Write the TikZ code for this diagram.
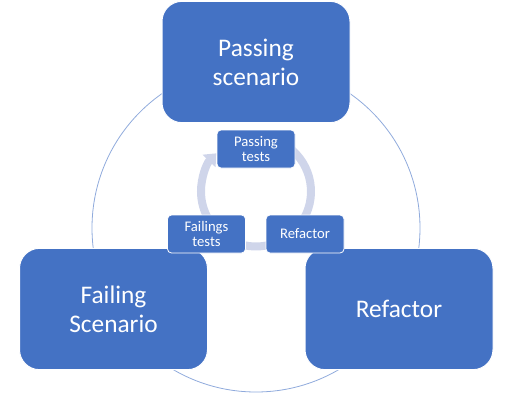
\documentclass[tikz,border=0pt]{standalone}
\usepackage{fontspec}
\setmainfont{Carlito}
\usetikzlibrary{arrows.meta,calc}
\definecolor{boxblue}{HTML}{4472C4}
\definecolor{ringcol}{HTML}{CFD5EA}
\definecolor{circcol}{HTML}{8FAADC}
\tikzset{
  bigbox/.style={draw=white, line width=0.75pt, fill=boxblue, rounded corners=15pt,
    minimum width=141pt, minimum height=91pt, text=white, align=center,
    font=\fontsize{19}{21.75}\selectfont, inner sep=0pt},
  smallbox/.style={draw=white, line width=0.6pt, fill=boxblue, rounded corners=3pt,
    minimum width=58.5pt, minimum height=28.5pt, text=white, align=center,
    font=\fontsize{11}{11.25}\selectfont, inner sep=0pt},
  bigcircle/.style={draw=circcol, line width=0.6pt},
  ring/.style={draw=ringcol, line width=6pt, -{Triangle[width=13pt,length=8pt]}}
}
\begin{document}
\begin{tikzpicture}[x=0.75pt,y=-0.75pt]
\useasboundingbox (0,0) rectangle (512,415);
\coordinate (bc) at (256,228);
\draw[bigcircle] (bc) circle[radius=164];
\node[bigbox] (pass) at (256,62) {Passing\\scenario};
\node[bigbox] (fail) at (113.5,309) {Failing\\Scenario};
\node[bigbox] (refac) at (399,309) {Refactor};
\coordinate (rc) at (256,191.5);
\draw[ring] ($(rc)+(-60:55)$) arc[start angle=-60, end angle=224, radius=55];
\node[smallbox] (ptest) at (256,149) {Passing\\tests};
\node[smallbox] (ftest) at (206.5,234) {Failings\\tests};
\node[smallbox] (rtest) at (305,234) {Refactor};
\end{tikzpicture}
\end{document}
